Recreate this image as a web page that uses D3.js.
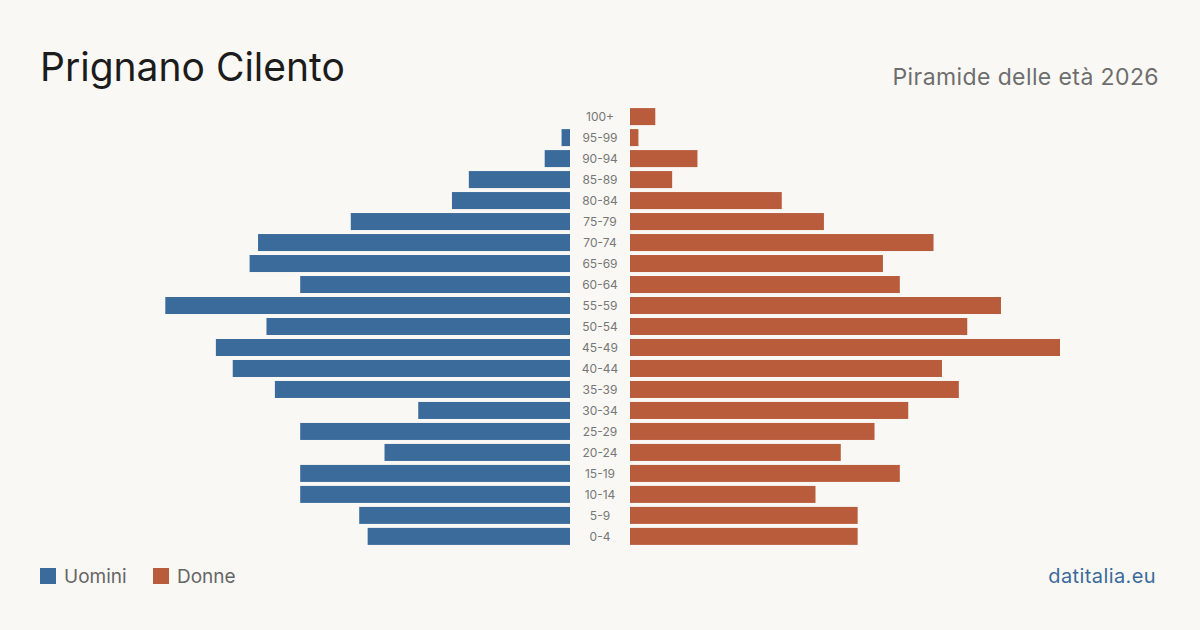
<!DOCTYPE html>
<html>
<head>
<meta charset="utf-8">
<script src="https://cdn.jsdelivr.net/npm/d3@7"></script>
<style>
  body { margin: 0; background: #f9f8f4; }
  svg { display: block; font-family: Inter, "Noto Sans", sans-serif; }
</style>
</head>
<body>
<div id="chart"></div>
<script>
const title = "Prignano Cilento"
const subtitle = "Piramide delle età 2026"
const source = "datitalia.eu"

// youngest first, as in the source table
const ageGroups = ["0-4", "5-9", "10-14", "15-19", "20-24", "25-29", "30-34", "35-39", "40-44", "45-49",
  "50-54", "55-59", "60-64", "65-69", "70-74", "75-79", "80-84", "85-89", "90-94", "95-99", "100+"]
const uomini = [24, 25, 32, 32, 22, 32, 18, 35, 40, 42, 36, 48, 32, 38, 37, 26, 14, 12, 3, 1, 0]
const donne = [27, 27, 22, 32, 25, 29, 33, 39, 37, 51, 40, 44, 32, 30, 36, 23, 18, 5, 8, 1, 3]

const colors = { uomini: "#3b6b9b", donne: "#b95c3c" }

const width = 1200
const height = 630
const center = 600
const gap = 30 // half of the label column

const svg = d3.select("#chart")
  .append("svg")
  .attr("width", width)
  .attr("height", height)

svg.append("rect").attr("width", width).attr("height", height).attr("fill", "#f9f8f4")

const rows = ageGroups.map((g, i) => ({ age: g, m: uomini[i], f: donne[i] }))

const y = d3.scaleBand()
  .domain(ageGroups.slice().reverse())
  .range([106, 547])
  .paddingInner(0.19)
  .paddingOuter(0.1)

const maxVal = d3.max([...uomini, ...donne])
const x = d3.scaleLinear().domain([0, maxVal]).range([0, 430])

// men, growing left
svg.append("g")
  .selectAll("rect")
  .data(rows)
  .join("rect")
  .attr("x", d => center - gap - x(d.m))
  .attr("y", d => y(d.age))
  .attr("width", d => x(d.m))
  .attr("height", y.bandwidth())
  .attr("fill", colors.uomini)

// women, growing right
svg.append("g")
  .selectAll("rect")
  .data(rows)
  .join("rect")
  .attr("x", center + gap)
  .attr("y", d => y(d.age))
  .attr("width", d => x(d.f))
  .attr("height", y.bandwidth())
  .attr("fill", colors.donne)

// age labels
svg.append("g")
  .selectAll("text")
  .data(rows)
  .join("text")
  .attr("x", center)
  .attr("y", d => y(d.age) + y.bandwidth() / 2)
  .attr("dy", "0.35em")
  .attr("text-anchor", "middle")
  .attr("fill", "#777")
  .style("font-size", "12px")
  .text(d => d.age)

// header
svg.append("text")
  .attr("x", 40)
  .attr("y", 81)
  .attr("fill", "#1c1c1c")
  .style("font-size", "39px")
  .text(title)

svg.append("text")
  .attr("x", 1159)
  .attr("y", 85)
  .attr("text-anchor", "end")
  .attr("fill", "#6e6e6e")
  .style("font-size", "23px")
  .style("letter-spacing", "0.4px")
  .text(subtitle)

// legend
const legend = svg.append("g").attr("transform", "translate(40,568)")
const items = [
  { label: "Uomini", color: colors.uomini, x: 0 },
  { label: "Donne", color: colors.donne, x: 113 },
]
const li = legend.selectAll("g")
  .data(items)
  .join("g")
  .attr("transform", d => `translate(${d.x},0)`)

li.append("rect")
  .attr("width", 16)
  .attr("height", 16)
  .attr("fill", d => d.color)

li.append("text")
  .attr("x", 24)
  .attr("y", 8)
  .attr("dy", "0.35em")
  .attr("fill", "#666")
  .style("font-size", "19px")
  .text(d => d.label)

svg.append("text")
  .attr("x", 1156)
  .attr("y", 583)
  .attr("text-anchor", "end")
  .attr("fill", "#3b6b9b")
  .style("font-size", "20px")
  .style("letter-spacing", "0.4px")
  .text(source)
</script>
</body>
</html>
